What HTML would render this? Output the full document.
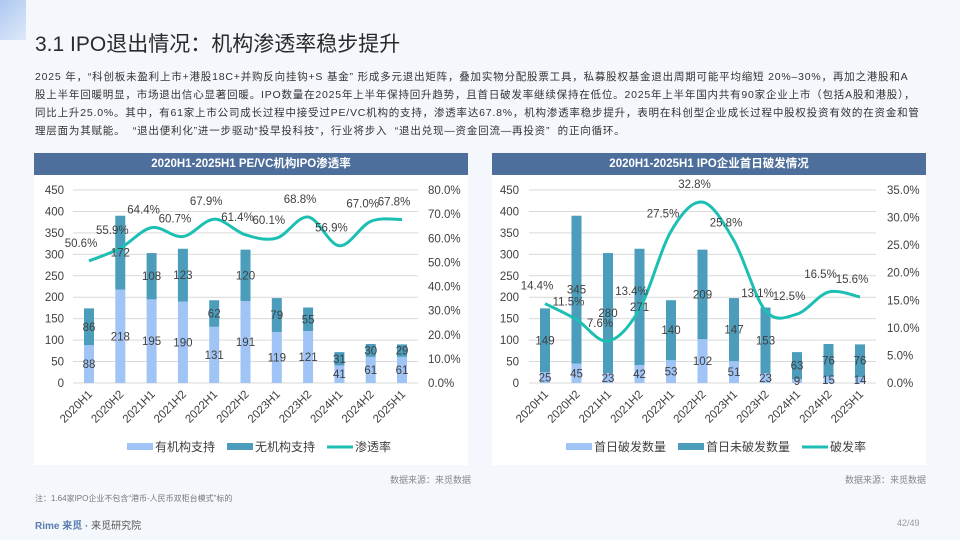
<!DOCTYPE html>
<html><head><meta charset="utf-8">
<style>
body{margin:0;width:960px;height:540px;overflow:hidden;background:#f4f7fc;font-family:"Liberation Sans","Noto Sans CJK SC",sans-serif;position:relative}
.t{position:absolute;left:35px;top:28px;font-size:21px;color:#2a2a2a;white-space:nowrap}
.p{position:absolute;left:35px;font-size:10.5px;color:#333;white-space:nowrap;letter-spacing:0.8px}
.panel{position:absolute;top:153px;width:434px;height:312px;background:#fff}
.bar{position:absolute;left:0;top:0;width:100%;height:22px;background:#4e6f9b;color:#fff;font-weight:bold;font-size:11.5px;text-align:center;line-height:22px}
.src{position:absolute;top:473px;font-size:9px;color:#888}
</style></head><body>
<div style="position:absolute;left:0;top:0;width:26px;height:40px;background:linear-gradient(135deg,#7fa8e8,#cfe0f8);opacity:.6"></div>
<div class="t">3.1 IPO退出情况：机构渗透率稳步提升</div>
<div class="p" style="top:69px">2025 年，“科创板未盈利上市+港股18C+并购反向挂钩+S 基金” 形成多元退出矩阵，叠加实物分配股票工具，私募股权基金退出周期可能平均缩短 20%–30%，再加之港股和A</div>
<div class="p" style="top:87px">股上半年回暖明显，市场退出信心显著回暖。IPO数量在2025年上半年保持回升趋势，且首日破发率继续保持在低位。2025年上半年国内共有90家企业上市（包括A股和港股），</div>
<div class="p" style="top:105px">同比上升25.0%。其中，有61家上市公司成长过程中接受过PE/VC机构的支持，渗透率达67.8%，机构渗透率稳步提升，表明在科创型企业成长过程中股权投资有效的在资金和管</div>
<div class="p" style="top:123px">理层面为其赋能。 &nbsp;“退出便利化”进一步驱动“投早投科技”，行业将步入 &nbsp;“退出兑现—资金回流—再投资” &nbsp;的正向循环。</div>

<div class="panel" style="left:34px"><div class="bar">2020H1-2025H1 PE/VC机构IPO渗透率</div></div>
<div class="panel" style="left:492px"><div class="bar">2020H1-2025H1 IPO企业首日破发情况</div></div>
<svg id="svg" width="960" height="540" style="position:absolute;left:0;top:0" font-family="Liberation Sans, Noto Sans CJK SC, sans-serif"></svg>
<div class="src" style="left:390px">数据来源：来觅数据</div>
<div class="src" style="left:845px">数据来源：来觅数据</div>
<div style="position:absolute;left:35px;top:493px;font-size:8px;color:#777">注：1.64家IPO企业不包含“港币-人民币双柜台模式”标的</div>
<div style="position:absolute;left:35px;top:517px;font-size:10px;color:#5a7bb0;font-weight:bold">Rime 来觅 · <span style="font-weight:normal;color:#555">来觅研究院</span></div>
<div style="position:absolute;left:897px;top:518px;font-size:9px;color:#999">42/49</div>
<script>
const cats=["2020H1","2020H2","2021H1","2021H2","2022H1","2022H2","2023H1","2023H2","2024H1","2024H2","2025H1"];
const withInst=[88,218,195,190,131,191,119,121,41,61,61];
const noInst=[86,172,108,123,62,120,79,55,31,30,29];
const penRate=[50.6,55.9,64.4,60.7,67.9,61.4,60.1,68.8,56.9,67.0,67.8];
const broken=[25,45,23,42,53,102,51,23,9,15,14];
const notBroken=[149,345,280,271,140,209,147,153,63,76,76];
const breakRate=[14.4,11.5,7.6,13.4,27.5,32.8,25.8,13.1,12.5,16.5,15.6];
const leftTicks=[0,50,100,150,200,250,300,350,400,450];
const penTicks=[0,10,20,30,40,50,60,70,80];
const brTicks=[0,5,10,15,20,25,30,35];
const svg=document.getElementById('svg');
const NS="http://www.w3.org/2000/svg";
function mk(tag,at,parent){const e=document.createElementNS(NS,tag);for(const k in at)e.setAttribute(k,at[k]);(parent||svg).appendChild(e);return e;}
function txt(x,y,s,at){const e=mk('text',Object.assign({x:x,y:y,'font-size':11.5,fill:'#404040'},at||{}));e.textContent=s;return e;}
function smooth(pts){let d=`M${pts[0][0]},${pts[0][1]}`;for(let i=0;i<pts.length-1;i++){const p0=pts[i-1]||pts[i],p1=pts[i],p2=pts[i+1],p3=pts[i+2]||p2;const c1=[p1[0]+(p2[0]-p0[0])/6,p1[1]+(p2[1]-p0[1])/6],c2=[p2[0]-(p3[0]-p1[0])/6,p2[1]-(p3[1]-p1[1])/6];d+=` C${c1[0]},${c1[1]} ${c2[0]},${c2[1]} ${p2[0]},${p2[1]}`;}return d;}
function chart(o){
  const y0=383,y1=190;
  const yL=v=>y0-(v/450)*(y0-y1);
  const yR=v=>y0-(v/o.rmax)*(y0-y1);
  const xS=i=>o.x0+i*(o.x1-o.x0)/(cats.length-1);
  const g=mk('g',{});
  
  
  leftTicks.forEach(t=>{const gl=mk('line',{x1:o.gx0,x2:o.gx1,y1:yL(t),y2:yL(t),stroke:'#d9d9d9','stroke-width':1},g);
    const l=txt(o.lx,yL(t)+4,String(t),{'text-anchor':'end'});});
  o.rt.forEach(t=>{const l=txt(o.rx,yR(t)+4,t.toFixed(1)+'%',{});});
  cats.forEach((c,i)=>{const x=xS(i),a=o.a[i],b=o.b[i];
    const r1=mk('rect',{x:x-5,y:yL(a),width:10,height:yL(0)-yL(a),fill:'#a0c4f6'},g);
    const r2=mk('rect',{x:x-5,y:yL(a+b),width:10,height:yL(a)-yL(a+b),fill:'#4b9dbb'},g);
    const l1=txt(x,(yL(0)+yL(a))/2+4,String(a),{'text-anchor':'middle'});
    const l2=txt(x,(yL(a)+yL(a+b))/2+4,String(b),{'text-anchor':'middle'});
    const xl=txt(0,0,c,{'text-anchor':'end',transform:`translate(${x+4},${y0+12}) rotate(-45)`});
  });
  const pts=o.r.map((v,i)=>[xS(i),yR(v)]);
  const p=mk('path',{d:smooth(pts),fill:'none',stroke:'#1dbfb3','stroke-width':3},g);
  o.r.forEach((v,i)=>{const l=txt(xS(i)-8,yR(v)-14,v.toFixed(1)+'%',{'text-anchor':'middle'});});
  const ly=447;let lx=o.legx;
  o.leg.forEach((s,k)=>{let m;
    if(k<2)m=mk('rect',{x:lx,y:ly-4,width:26,height:7,fill:k?'#4b9dbb':'#a0c4f6'},g);else m=mk('line',{x1:lx,x2:lx+26,y1:ly,y2:ly,stroke:'#1dbfb3','stroke-width':3},g);
    
    const l=txt(lx+28,ly+4,s,{'font-size':12});
    lx+=s.length*12+28+12;});
}
chart({name:'left-chart',x0:89,x1:402,gx0:73,gx1:418,lx:64,rx:428,rmax:80,rt:penTicks,a:withInst,b:noInst,r:penRate,legx:127,leg:['有机构支持','无机构支持','渗透率']});
chart({name:'right-chart',x0:545,x1:860,gx0:529,gx1:876,lx:519,rx:887,rmax:35,rt:brTicks,a:broken,b:notBroken,r:breakRate,legx:566,leg:['首日破发数量','首日未破发数量','破发率']});
</script>
</body></html>
